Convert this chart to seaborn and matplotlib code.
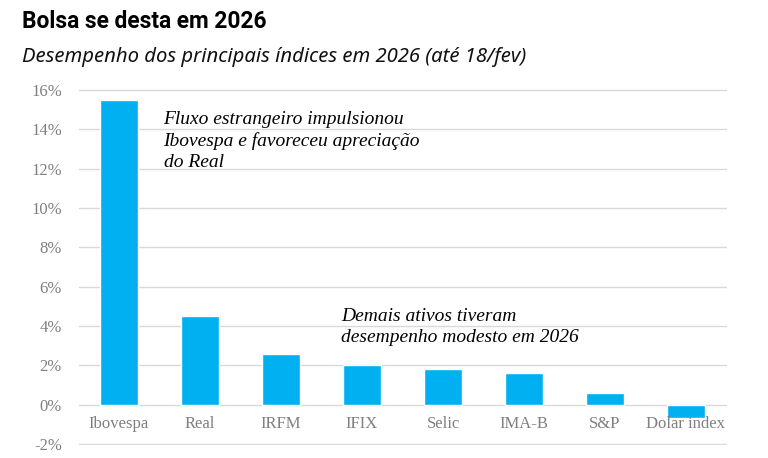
import matplotlib
matplotlib.use("Agg")
import matplotlib.pyplot as plt
import seaborn as sns
import pandas as pd
from matplotlib.ticker import FuncFormatter

categories = ["Ibovespa", "Real", "IRFM", "IFIX", "Selic", "IMA-B", "S&P", "Dolar index"]
values = [15.5, 4.5, 2.6, 2.03, 1.8, 1.63, 0.58, -0.7]
yticks = [-2, 0, 2, 4, 6, 8, 10, 12, 14, 16]

df = pd.DataFrame({"ativo": categories, "retorno": values})

sns.set_theme(style="white")
plt.rcParams["font.family"] = ["DejaVu Sans"]

fig = plt.figure(figsize=(7.68, 4.58), dpi=100)
ax = fig.add_axes([78.5/768, 1-445/458, (726.5-78.5)/768, (445-89)/458])

sns.barplot(data=df, x="ativo", y="retorno", color="#00B0F0", saturation=1,
            width=0.46, ax=ax, zorder=3)

ax.set_ylim(-2.05, 16.05)
ax.set_yticks(yticks)
ax.yaxis.set_major_formatter(FuncFormatter(lambda v, p: f"{v:.0f}%"))
ax.grid(axis="y", color="#d9d9d9", linewidth=1, zorder=0)
ax.set_axisbelow(True)
for s in ax.spines.values():
    s.set_visible(False)
ax.set_xlabel("")
ax.set_ylabel("")
ax.tick_params(axis="both", length=0, labelcolor="#7f7f7f", labelsize=12)
ax.tick_params(axis="y", pad=12)
for lab in ax.get_yticklabels():
    lab.set_fontfamily("Liberation Serif")
ax.set_xticks(range(len(categories)))
ax.set_xticklabels([])
for i, c in enumerate(categories):
    ax.text(i, -0.6, c, ha="center", va="top", fontfamily="Liberation Serif",
            color="#7f7f7f", fontsize=12)

fig.text(22/768, 1-22/458, "Bolsa se desta em 2026", fontfamily="Roboto",
         fontweight="bold", fontsize=16.4, ha="left", va="center", color="black")
fig.text(22/768, 1-57/458, "Desempenho dos principais índices em 2026 (até 18/fev)",
         fontfamily="Noto Sans", fontstyle="italic", fontsize=14.6, ha="left",
         va="center", color="#111111")

ax.text(0.55, 14.95, "Fluxo estrangeiro impulsionou\nIbovespa e favoreceu apreciação\ndo Real",
        ha="left", va="top", fontfamily="Liberation Serif", fontstyle="italic",
        fontsize=14, color="black", linespacing=1.32)
ax.text(2.74, 4.9, "Demais ativos tiveram\ndesempenho modesto em 2026",
        ha="left", va="top", fontfamily="Liberation Serif", fontstyle="italic",
        fontsize=14, color="black", linespacing=1.32)

fig.savefig("out.png", dpi=100)
